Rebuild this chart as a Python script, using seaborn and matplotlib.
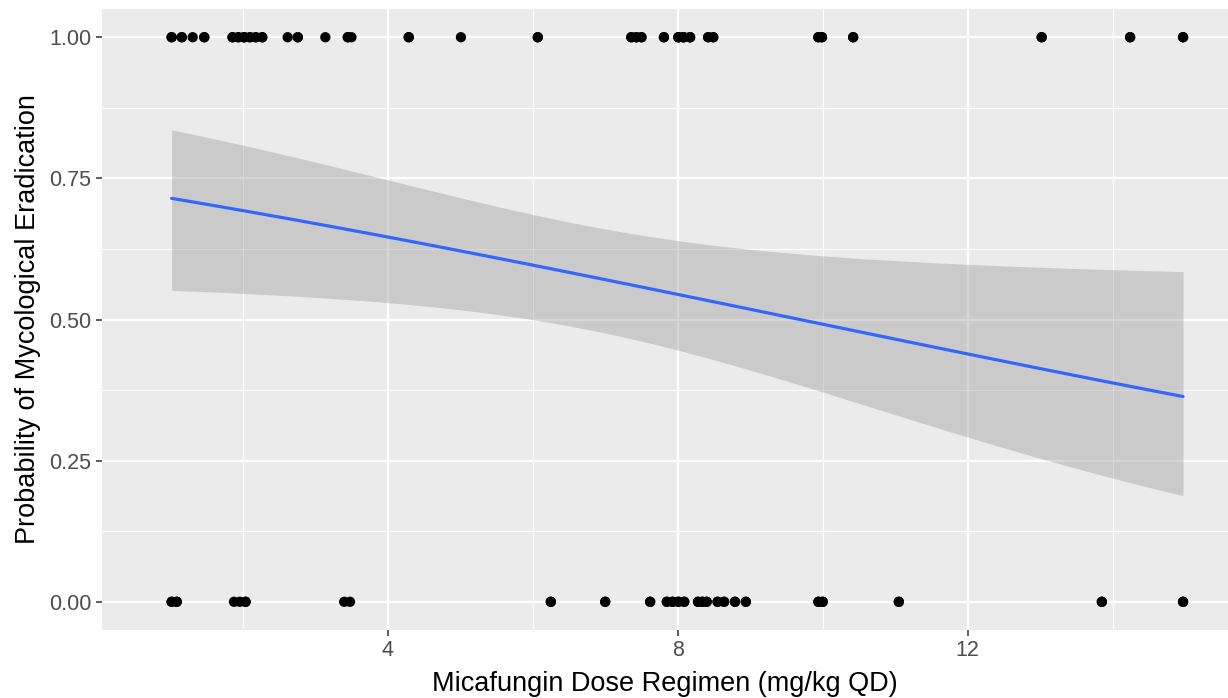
import numpy as np
import pandas as pd
import matplotlib
matplotlib.use("Agg")
import matplotlib.pyplot as plt
import seaborn as sns

# Micafungin dose (mg/kg QD) per patient; repeated values are patients
# who received the same dose and are drawn on top of each other
dose_eradicated = [1.02, 1.02, 1.16, 1.16, 1.31, 1.47, 1.47,
                   1.86, 1.86, 1.94, 1.94, 2.02, 2.02, 2.02, 2.10, 2.10,
                   2.18, 2.18, 2.27, 2.27, 2.62, 2.76, 2.76, 3.14,
                   3.45, 3.45, 3.50, 4.29, 4.29, 5.01,
                   6.07, 6.07, 7.36, 7.36, 7.43, 7.43, 7.50, 7.50, 7.81, 7.81,
                   8.01, 8.01, 8.01, 8.08, 8.08, 8.08, 8.17, 8.17, 8.17,
                   8.42, 8.42, 8.49, 8.49, 9.94, 9.94, 9.99, 9.99,
                   10.42, 10.42, 13.02, 13.02, 14.24, 14.24, 14.97, 14.97]
dose_not_eradicated = [1.02, 1.02, 1.09, 1.09, 1.88, 1.96, 2.04, 2.04, 3.40, 3.48,
                       6.25, 6.25, 7.00, 7.00, 7.62, 7.62,
                       7.85, 7.85, 7.93, 7.93, 8.01, 8.01, 8.09, 8.09,
                       8.28, 8.28, 8.34, 8.34, 8.40, 8.40, 8.55, 8.55, 8.64, 8.64,
                       8.79, 8.79, 8.94, 8.94, 9.94, 9.94, 10.00, 10.00,
                       11.05, 11.05, 13.85, 13.85, 14.97, 14.97]

x_ticks = [4, 8, 12]
y_ticks = [0.00, 0.25, 0.50, 0.75, 1.00]
y_tick_labels = ["0.00", "0.25", "0.50", "0.75", "1.00"]

df = pd.DataFrame({
    "dose": dose_eradicated + dose_not_eradicated,
    "eradication": [1] * len(dose_eradicated) + [0] * len(dose_not_eradicated),
})

# Binomial GLM (logit link) fitted by iteratively reweighted least squares
X = np.column_stack([np.ones(len(df)), df["dose"].to_numpy()])
y = df["eradication"].to_numpy(dtype=float)
beta = np.zeros(2)
for _ in range(100):
    eta = X @ beta
    mu = 1 / (1 + np.exp(-eta))
    w = mu * (1 - mu)
    z = eta + (y - mu) / w
    XtW = X.T * w
    beta_new = np.linalg.solve(XtW @ X, XtW @ z)
    if np.max(np.abs(beta_new - beta)) < 1e-10:
        beta = beta_new
        break
    beta = beta_new
mu = 1 / (1 + np.exp(-(X @ beta)))
cov = np.linalg.inv((X.T * (mu * (1 - mu))) @ X)

# Fitted probability with a 95% band computed on the link scale
grid = np.linspace(df["dose"].min(), df["dose"].max(), 80)
G = np.column_stack([np.ones_like(grid), grid])
eta_g = G @ beta
se_g = np.sqrt(np.einsum("ij,jk,ik->i", G, cov, G))
zq = 1.959964
fit = pd.DataFrame({
    "dose": grid,
    "prob": 1 / (1 + np.exp(-eta_g)),
    "lo": 1 / (1 + np.exp(-(eta_g - zq * se_g))),
    "hi": 1 / (1 + np.exp(-(eta_g + zq * se_g))),
})

sns.set_theme(style="darkgrid", rc={
    "axes.facecolor": "#EBEBEB",
    "grid.color": "white",
    "axes.edgecolor": "#EBEBEB",
})
plt.rcParams["font.family"] = ["Liberation Sans", "DejaVu Sans"]

fig = plt.figure(figsize=(12.28, 6.98), dpi=100)
ax = fig.add_axes([0.0828, 0.0974, 0.9172, 0.8897])

ax.fill_between(fit["dose"], fit["lo"], fit["hi"], color="#999999", alpha=0.4,
                linewidth=0, zorder=2)
sns.lineplot(data=fit, x="dose", y="prob", color="#3366FF", linewidth=2.3,
             ax=ax, zorder=3)
sns.scatterplot(data=df, x="dose", y="eradication", color="black", s=55,
                edgecolor="none", ax=ax, zorder=4)

ax.set_xlim(0.055, 15.59)
ax.set_ylim(-0.05, 1.05)
ax.set_xticks(x_ticks)
ax.set_xticklabels([str(t) for t in x_ticks])
ax.set_yticks(y_ticks)
ax.set_yticklabels(y_tick_labels)
ax.set_xticks([2, 6, 10, 14], minor=True)
ax.set_yticks([0.125, 0.375, 0.625, 0.875], minor=True)
ax.grid(which="major", color="white", linewidth=1.6)
ax.grid(which="minor", color="white", linewidth=0.8)
ax.set_axisbelow(True)
for s in ax.spines.values():
    s.set_visible(False)

ax.tick_params(axis="both", which="major", length=4.5, width=1.1, color="#333333",
               labelsize=15.5, labelcolor="#4D4D4D", pad=3, bottom=True, left=True)
ax.tick_params(axis="both", which="minor", length=0)

ax.set_xlabel("Micafungin Dose Regimen (mg/kg QD)", fontsize=19.5, color="black",
              labelpad=7)
ax.set_ylabel("Probability of Mycological Eradication", fontsize=19.5, color="black",
              labelpad=6)

fig.savefig("out.png", dpi=100)
